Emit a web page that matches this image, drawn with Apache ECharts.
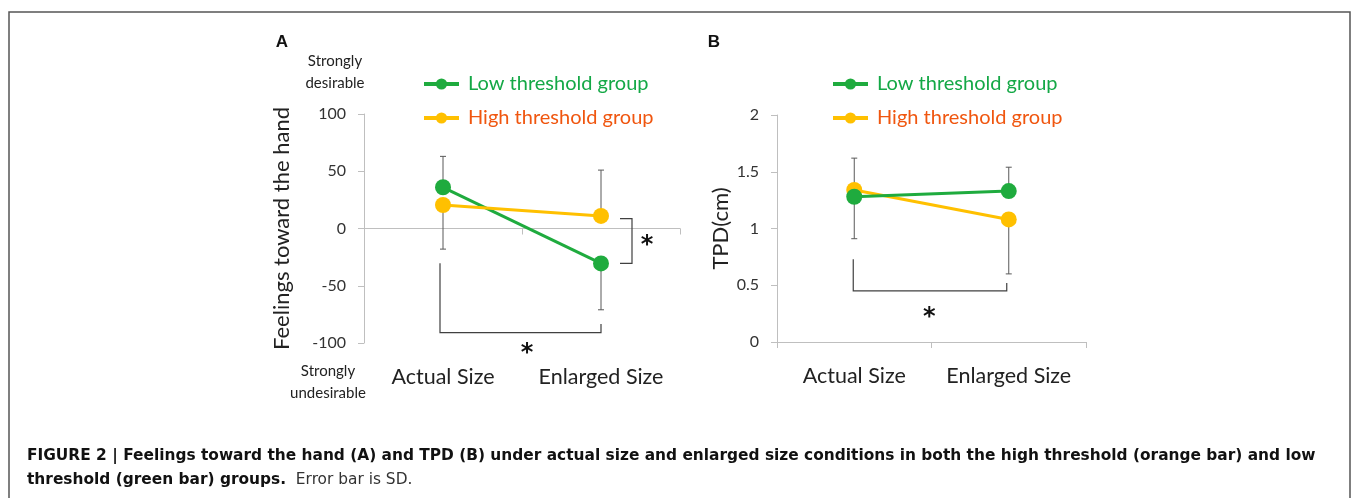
<!DOCTYPE html>
<html>
<head>
<meta charset="utf-8">
<script src="https://cdn.jsdelivr.net/npm/echarts@6/dist/echarts.min.js"></script>
<style>
  body { margin: 0; background: #fff; }
  #main { width: 1352px; height: 498px; }
</style>
</head>
<body>
<div id="main"></div>
<script>
// categories
var conditions = ["Actual Size", "Enlarged Size"];
var groupLow = "Low threshold group";
var groupHigh = "High threshold group";

// panel A: feelings toward the hand
var feelLow = [36, -30.5];
var feelHigh = [20.5, 11];
// error bar ends (one side drawn per point, as in the figure)
var feelLowBarEnd = [63, -71];
var feelHighBarEnd = [-18, 51];
var feelTicks = [-100, 100, 50];

// panel B: TPD (cm)
var tpdLow = [1.28, 1.33];
var tpdHigh = [1.34, 1.08];
var tpdLowBarEnd = [0.91, 1.54];
var tpdHighBarEnd = [1.62, 0.6];
var tpdTicks = [0, 2, 0.5];

// significance brackets: [category index, value] points
var bracketsA = [
  { pts: [[1, 8.7], [1, 8.7], [1, -30.4], [1, -30.4]], dx: [19, 31, 31, 19], star: [1, -12], starDx: 46 },
  { pts: [[0, -30.4], [0, -91], [1, -91], [1, -83.5]], dx: [-3, -3, 0, 0], star: [0, -106], starDx: 84 }
];
var bracketsB = [
  { pts: [[0, 0.73], [0, 0.45], [1, 0.45], [1, 0.52]], dx: [-1, -1, -2, -2], star: [0, 0.25], starDx: 75 }
];

var green = "#1fab3e";
var yellow = "#ffc000";
var greenText = "#14a846";
var orangeText = "#f0560f";
var axisGray = "#bfbfbf";
var font = "Lato";
var capFont = "DejaVu Sans";

var chart = echarts.init(document.getElementById("main"));

function errData(ys, ends) {
  return ys.map(function (y, i) { return [i, y, ends[i]]; });
}

function renderErr(params, api) {
  var p1 = api.coord([api.value(0), api.value(1)]);
  var p2 = api.coord([api.value(0), api.value(2)]);
  var st = { stroke: "#595959", lineWidth: 1 };
  return {
    type: "group",
    children: [
      { type: "line", shape: { x1: p1[0], y1: p1[1], x2: p2[0], y2: p2[1] }, style: st },
      { type: "line", shape: { x1: p2[0] - 3, y1: p2[1], x2: p2[0] + 3, y2: p2[1] }, style: st }
    ]
  };
}

function bracketRenderer(list) {
  return function (params, api) {
    var b = list[params.dataIndex];
    var points = b.pts.map(function (p, i) {
      var c = api.coord(p);
      return [c[0] + b.dx[i], c[1]];
    });
    var s = api.coord(b.star);
    return {
      type: "group",
      children: [
        { type: "polyline", shape: { points: points }, style: { stroke: "#404040", lineWidth: 1.2, fill: null } },
        { type: "text", x: s[0] + b.starDx, y: s[1] + 4,
          style: { text: "*", fontSize: 24, fontWeight: "bold", fontFamily: "DejaVu Sans", fill: "#111",
                   align: "center", verticalAlign: "middle" } }
      ]
    };
  };
}

function lineSeries(name, data, color, axisIndex, z) {
  return {
    name: name, type: "line", data: data,
    xAxisIndex: axisIndex, yAxisIndex: axisIndex,
    symbol: "circle", symbolSize: 16, z: z,
    lineStyle: { color: color, width: 3 },
    itemStyle: { color: color },
    animation: false
  };
}

function xAxisCfg(grid) {
  return {
    type: "category", gridIndex: grid, data: conditions,
    axisLine: { onZero: true, lineStyle: { color: axisGray, width: 1 } },
    axisTick: { show: true, length: 6, lineStyle: { color: axisGray } },
    axisLabel: { interval: 0, hideOverlap: false, margin: 23, fontSize: 21.5, color: "#222", fontFamily: font }
  };
}

function yAxisCfg(grid, ticks, name, gap) {
  return {
    type: "value", gridIndex: grid, min: ticks[0], max: ticks[1], interval: ticks[2],
    name: name, nameLocation: "middle", nameRotate: 90, nameGap: gap,
    nameTextStyle: { fontSize: 22, color: "#222", fontFamily: font },
    axisLine: { show: true, lineStyle: { color: axisGray } },
    axisTick: { show: true, length: 6, lineStyle: { color: axisGray } },
    splitLine: { show: false },
    axisLabel: { margin: 18, fontSize: 16, color: "#333", fontFamily: font }
  };
}

function legendCfg(left) {
  return {
    orient: "vertical", left: left, top: 69, itemWidth: 35, itemHeight: 14, itemGap: 14,
    selectedMode: false,
    lineStyle: { width: 4 },
    textStyle: { fontSize: 20, fontFamily: font, padding: [0, 0, 0, 4] },
    data: [
      { name: groupLow, textStyle: { color: greenText } },
      { name: groupHigh, textStyle: { color: orangeText } }
    ]
  };
}

var option = {
  animation: false,
  grid: [
    { left: 364, top: 114, width: 316, height: 229 },
    { left: 777, top: 115, width: 309, height: 227 }
  ],
  legend: [legendCfg(417), legendCfg(826)],
  xAxis: [xAxisCfg(0), xAxisCfg(1)],
  yAxis: [
    yAxisCfg(0, feelTicks, "Feelings toward the hand", 71),
    yAxisCfg(1, tpdTicks, "TPD(cm)", 45)
  ],
  series: [
    { type: "custom", xAxisIndex: 0, yAxisIndex: 0, z: 1, silent: true,
      data: errData(feelLow, feelLowBarEnd).concat(errData(feelHigh, feelHighBarEnd)), renderItem: renderErr },
    { type: "custom", xAxisIndex: 1, yAxisIndex: 1, z: 1, silent: true,
      data: errData(tpdLow, tpdLowBarEnd).concat(errData(tpdHigh, tpdHighBarEnd)), renderItem: renderErr },
    { type: "custom", xAxisIndex: 0, yAxisIndex: 0, z: 1, silent: true,
      data: bracketsA.map(function (b, i) { return [i]; }), renderItem: bracketRenderer(bracketsA) },
    { type: "custom", xAxisIndex: 1, yAxisIndex: 1, z: 1, silent: true,
      data: bracketsB.map(function (b, i) { return [i]; }), renderItem: bracketRenderer(bracketsB) },
    lineSeries(groupLow, feelLow, green, 0, 3),
    lineSeries(groupHigh, feelHigh, yellow, 0, 4),
    lineSeries(groupHigh, tpdHigh, yellow, 1, 3),
    lineSeries(groupLow, tpdLow, green, 1, 4)
  ],
  graphic: [
    { type: "rect", shape: { x: 9, y: 12, width: 1341, height: 520 },
      style: { fill: null, stroke: "#555", lineWidth: 1.5 }, silent: true },
    { type: "text", x: 282, y: 42, style: { text: "A", fontSize: 17, fontWeight: "bold", fontFamily: "Liberation Sans",
      fill: "#111", align: "center", verticalAlign: "middle" } },
    { type: "text", x: 714, y: 42, style: { text: "B", fontSize: 17, fontWeight: "bold", fontFamily: "Liberation Sans",
      fill: "#111", align: "center", verticalAlign: "middle" } },
    { type: "text", x: 335, y: 72, style: { text: "Strongly\ndesirable", fontSize: 15, lineHeight: 21.5,
      fontFamily: font, fill: "#222", align: "center", verticalAlign: "middle" } },
    { type: "text", x: 328, y: 382, style: { text: "Strongly\nundesirable", fontSize: 15, lineHeight: 21.5,
      fontFamily: font, fill: "#222", align: "center", verticalAlign: "middle" } },
    { type: "text", x: 27, y: 456, style: {
      text: "{b|FIGURE 2 | Feelings toward the hand (A) and TPD (B) under actual size and enlarged size conditions in both the high threshold (orange bar) and low}",
      verticalAlign: "middle",
      rich: { b: { fontSize: 15.4, fontWeight: "bold", fontFamily: capFont, fill: "#111" } } } },
    { type: "text", x: 27, y: 480, style: {
      text: "{b|threshold (green bar) groups.}{r|  Error bar is SD.}",
      verticalAlign: "middle",
      rich: {
        b: { fontSize: 15.4, fontWeight: "bold", fontFamily: capFont, fill: "#111" },
        r: { fontSize: 15.4, fontFamily: capFont, fill: "#333" }
      } } }
  ]
};

chart.setOption(option);
</script>
</body>
</html>
